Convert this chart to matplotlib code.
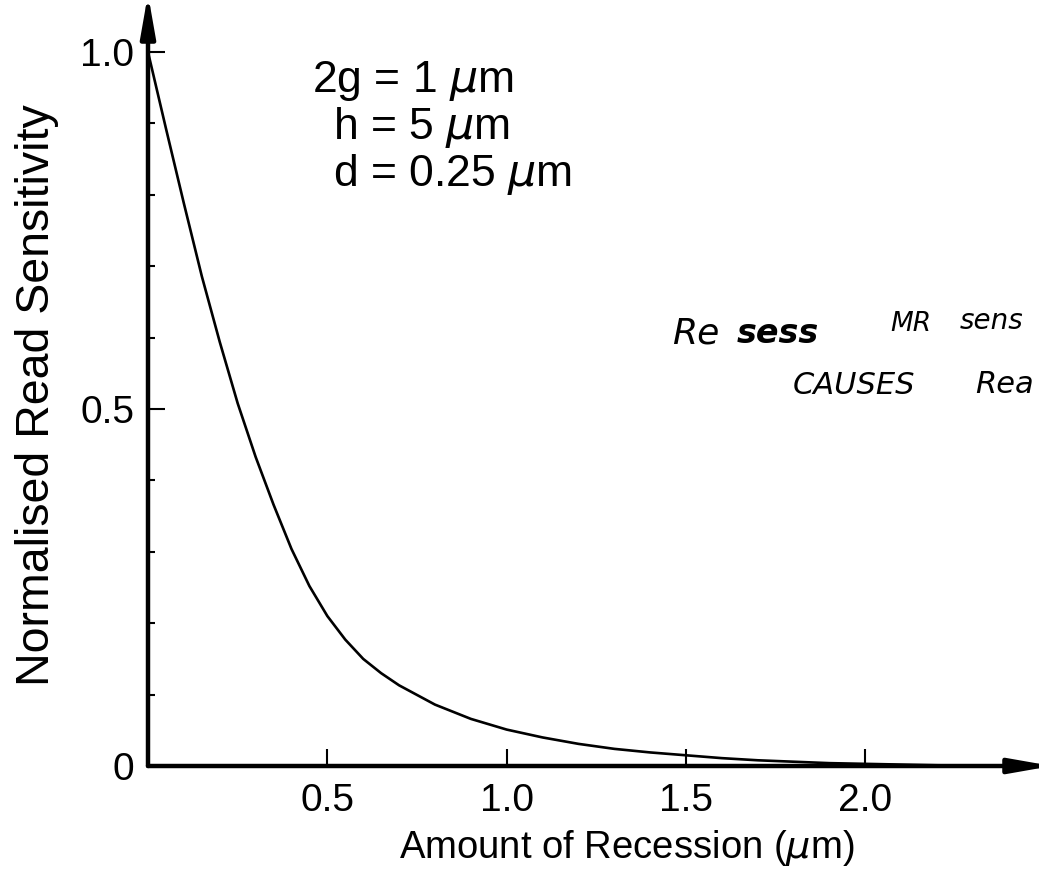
import matplotlib
matplotlib.use("Agg")
import matplotlib.pyplot as plt

# ---- data ----
recession_um = [0.00, 0.05, 0.10, 0.15, 0.20, 0.25, 0.30, 0.35, 0.40, 0.45,
                0.50, 0.55, 0.60, 0.65, 0.70, 0.80, 0.90, 1.00, 1.10, 1.20,
                1.30, 1.40, 1.50, 1.60, 1.70, 1.80, 1.90, 2.00, 2.20, 2.40]
sensitivity = [1.000, 0.893, 0.788, 0.686, 0.594, 0.508, 0.433, 0.366, 0.304, 0.252,
               0.210, 0.177, 0.150, 0.130, 0.113, 0.086, 0.066, 0.051, 0.040, 0.031,
               0.024, 0.019, 0.015, 0.011, 0.008, 0.006, 0.004, 0.003, 0.001, 0.000]
x_ticks = [0.5, 1.0, 1.5, 2.0]
x_tick_labels = ["0.5", "1.0", "1.5", "2.0"]
y_ticks = [0.0, 0.5, 1.0]
y_tick_labels = ["0", "0.5", "1.0"]
y_minor = [0.1, 0.2, 0.3, 0.4, 0.6, 0.7, 0.8, 0.9]
params = ["2g = 1 $\\mu$m", "h = 5 $\\mu$m", "d = 0.25 $\\mu$m"]

plt.rcParams['font.family'] = ['Liberation Sans', 'DejaVu Sans']
plt.rcParams['mathtext.fontset'] = 'dejavusans'

W, H = 1039, 880
fig = plt.figure(figsize=(W / 100, H / 100), dpi=100)
x0_px, y0_px = 148, 766
ux, uy = 358.7, 714.0
right_px, top_px = 1052, -6
xmax = (right_px - x0_px) / ux
ymax = (y0_px - top_px) / uy
ax = fig.add_axes([x0_px / W, (H - y0_px) / H, (right_px - x0_px) / W, (y0_px - top_px) / H])
ax.set_xlim(0, xmax)
ax.set_ylim(0, ymax)
for s in ax.spines.values():
    s.set_visible(False)

ax.plot(recession_um, sensitivity, color='black', lw=1.9,
        solid_capstyle='round', solid_joinstyle='round')

arrow_kw = dict(arrowstyle='-|>,head_length=1.25,head_width=0.22', lw=3.2,
                color='black', shrinkA=0, shrinkB=0, mutation_scale=20)
ax.annotate('', xy=(0, ymax), xytext=(0, 0), arrowprops=arrow_kw, annotation_clip=False)
ax.annotate('', xy=(xmax, 0), xytext=(0, 0), arrowprops=arrow_kw, annotation_clip=False)

ax.set_xticks(x_ticks)
ax.set_xticklabels(x_tick_labels)
ax.set_yticks(y_ticks)
ax.set_yticklabels(y_tick_labels)
ax.set_yticks(y_minor, minor=True)
ax.tick_params(axis='both', which='major', direction='in', length=12.5, width=1.5,
               labelsize=28, color='black')
ax.tick_params(axis='x', which='major', pad=12)
ax.tick_params(axis='y', which='major', pad=10)
ax.tick_params(axis='y', which='minor', direction='in', length=5, width=1.5)

ax.set_xlabel("Amount of Recession ($\\mu$m)", fontsize=27.5)
ax.xaxis.set_label_coords((627 - x0_px) / (right_px - x0_px), (y0_px - 848) / (y0_px - top_px))
ax.xaxis.label.set_va('center')
ax.set_ylabel("Normalised Read Sensitivity", fontsize=33.5)
ax.yaxis.set_label_coords((37 - x0_px) / (right_px - x0_px), (y0_px - 395) / (y0_px - top_px))
ax.yaxis.label.set_va('center')

# parameter block
xs = [312, 333, 333]
ys = [92, 139, 186]
for t, xp, yp in zip(params, xs, ys):
    fig.text(xp / W, 1 - yp / H, t, fontsize=32, ha='left', va='baseline')

# handwritten note
def hand(x, y, s, size, weight='normal'):
    fig.text(x / W, 1 - y / H, s, fontsize=size, style='italic', weight=weight,
             family='DejaVu Sans', ha='left', va='baseline')

hand(672, 343, "Re", 26)
hand(737, 343, "sess", 24, 'bold')
hand(890, 331, "MR", 19)
hand(960, 329, "sens", 20)
hand(793, 394, "CAUSES", 22)
hand(975, 393, "Rea", 22)

fig.savefig("out.png", dpi=100)
